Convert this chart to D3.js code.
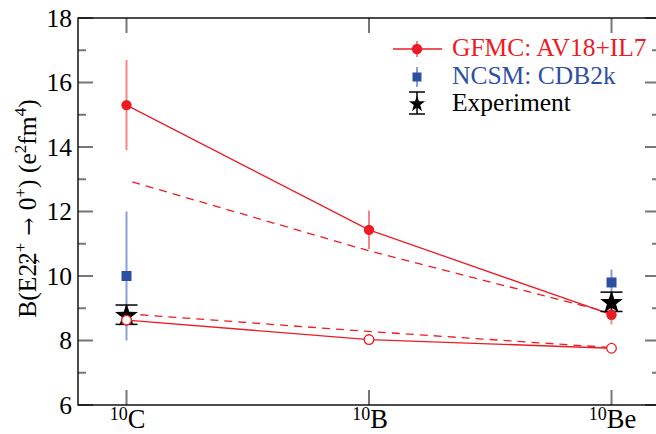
<!DOCTYPE html>
<html>
<head>
<meta charset="utf-8">
<script src="https://cdn.jsdelivr.net/npm/d3@7"></script>
<style>
  html, body { margin: 0; padding: 0; background: #fff; }
  svg { display: block; font-family: "Liberation Serif", "Times New Roman", serif; }
</style>
</head>
<body>
<svg id="chart" width="656" height="434"></svg>
<script>
// Nuclei along the x axis (mass number shown as superscript)
const nuclei = [
  { mass: "10", sym: "C" },
  { mass: "10", sym: "B" },
  { mass: "10", sym: "Be" }
];

// GFMC AV18+IL7, total B(E2) with Monte Carlo errors
const gfmcValues = [15.3, 11.43, 8.8];
const gfmcErrors = [1.4, 0.6, 0.3];
// GFMC alternative evaluation (dashed, upper)
const gfmcDashedUpper = [12.97, 10.78, 8.85];
// Lower GFMC curve (open circles) and its dashed companion
const gfmcLower = [8.63, 8.03, 7.76];
const gfmcDashedLower = [8.83, 8.28, 7.78];

// NCSM CDB2k (only 10C and 10Be)
const ncsmIndex = [0, 2];
const ncsmValues = [10.0, 9.8];
const ncsmErrors = [2.0, 0.4];

// Experiment (10C and 10Be)
const expIndex = [0, 2];
const expValues = [8.8, 9.2];
const expErrors = [0.3, 0.3];

const yMajorTicks = [6, 8, 10, 12, 14, 16, 18];
const yMinorTicks = [7, 9, 11, 13, 15, 17];

const red = "#ec1c24", redErr = "#f4868a";
const blue = "#2f4fa2", blueErr = "#8a9fd2";

const svg = d3.select("#chart");
const M = { left: 78, top: 18, right: 660, bottom: 405 };

const x = d3.scaleLinear().domain([-0.2, 2.2]).range([M.left, M.right]);
const y = d3.scaleLinear().domain([6, 18]).range([M.bottom, M.top]);

// Ticks (gray) on all four sides
const tickCol = "#777";
const ticks = svg.append("g").attr("stroke", tickCol).attr("stroke-width", 2);
yMajorTicks.forEach(v => {
  ticks.append("line").attr("x1", M.left).attr("x2", M.left + 15).attr("y1", y(v)).attr("y2", y(v));
  ticks.append("line").attr("x1", M.right - 15).attr("x2", M.right).attr("y1", y(v)).attr("y2", y(v));
});
yMinorTicks.forEach(v => {
  ticks.append("line").attr("x1", M.left).attr("x2", M.left + 8).attr("y1", y(v)).attr("y2", y(v));
  ticks.append("line").attr("x1", M.right - 8).attr("x2", M.right).attr("y1", y(v)).attr("y2", y(v));
});
nuclei.forEach((n, i) => {
  ticks.append("line").attr("x1", x(i)).attr("x2", x(i)).attr("y1", M.bottom).attr("y2", M.bottom - 15);
  ticks.append("line").attr("x1", x(i)).attr("x2", x(i)).attr("y1", M.top).attr("y2", M.top + 15);
});

// Frame
svg.append("rect")
  .attr("x", M.left).attr("y", M.top)
  .attr("width", M.right - M.left).attr("height", M.bottom - M.top)
  .attr("fill", "none").attr("stroke", "#000").attr("stroke-width", 1.4);

// Y tick labels
svg.append("g").selectAll("text").data(yMajorTicks).join("text")
  .attr("x", 72).attr("y", d => y(d)).attr("dy", "0.35em")
  .attr("text-anchor", "end").attr("font-size", 25.5).text(d => d);

// X tick labels with superscript mass number
const xl = svg.append("g").selectAll("text").data(nuclei).join("text")
  .attr("x", (d, i) => x(i) + 1).attr("y", 428)
  .attr("text-anchor", "middle").attr("font-size", 26.5);
xl.append("tspan").attr("font-size", 18).attr("dy", -8).text(d => d.mass);
xl.append("tspan").attr("dy", 8).text(d => d.sym);

// Y axis title
const yt = svg.append("text")
  .attr("transform", `translate(36, ${(M.top + M.bottom) / 2 - 3}) rotate(-90)`)
  .attr("text-anchor", "middle").attr("font-size", 25.5);
yt.append("tspan").text("B(E2");
yt.append("tspan").attr("font-size", 21).text(";");
yt.append("tspan").attr("dx", -7).text("2");
yt.append("tspan").attr("font-size", 17).attr("dy", -10).text("+");
yt.append("tspan").attr("dy", 10).attr("font-family", "DejaVu Serif").attr("font-size", 22).text(" \u2192 ");
yt.append("tspan").text("0");
yt.append("tspan").attr("font-size", 17).attr("dy", -10).text("+");
yt.append("tspan").attr("dy", 10).text(")  (e");
yt.append("tspan").attr("font-size", 17).attr("dy", -10).text("2");
yt.append("tspan").attr("dy", 10).text("fm");
yt.append("tspan").attr("font-size", 17).attr("dy", -10).text("4");
yt.append("tspan").attr("dy", 10).text(")");

const line = d3.line().x((d, i) => x(i)).y(d => y(d));

// Lines
const lines = svg.append("g").attr("fill", "none").attr("stroke", red).attr("stroke-width", 1.3);
lines.append("path").attr("d", line(gfmcValues));
lines.append("path").attr("d", line(gfmcLower));
lines.append("path").attr("d", line(gfmcDashedUpper)).attr("stroke-dasharray", "8,6").attr("stroke-dashoffset", -6);
lines.append("path").attr("d", line(gfmcDashedLower)).attr("stroke-dasharray", "8,6");

// Error bars
const eb = svg.append("g").attr("stroke-width", 2);
gfmcValues.forEach((v, i) => {
  eb.append("line").attr("stroke", redErr)
    .attr("x1", x(i)).attr("x2", x(i))
    .attr("y1", y(v - gfmcErrors[i])).attr("y2", y(v + gfmcErrors[i]));
});
ncsmValues.forEach((v, k) => {
  const i = ncsmIndex[k];
  eb.append("line").attr("stroke", blueErr)
    .attr("x1", x(i)).attr("x2", x(i))
    .attr("y1", y(v - ncsmErrors[k])).attr("y2", y(v + ncsmErrors[k]));
});

// NCSM squares
svg.append("g").selectAll("rect").data(ncsmValues).join("rect")
  .attr("x", (d, k) => x(ncsmIndex[k]) - 5).attr("y", d => y(d) - 5)
  .attr("width", 10).attr("height", 10).attr("fill", blue);

// Star path helper
function starPath(R, r) {
  const pts = [];
  for (let k = 0; k < 10; k++) {
    const a = -Math.PI / 2 + k * Math.PI / 5;
    const rad = k % 2 === 0 ? R : r;
    pts.push([rad * Math.cos(a), rad * Math.sin(a)]);
  }
  return "M" + pts.map(p => p.join(",")).join("L") + "Z";
}

// Experiment: error bars with caps and stars
const ex = svg.append("g");
expValues.forEach((v, k) => {
  const cx = x(expIndex[k]);
  const g = ex.append("g").attr("stroke", "#000").attr("stroke-width", 1.5);
  g.append("line").attr("x1", cx).attr("x2", cx).attr("y1", y(v - expErrors[k])).attr("y2", y(v + expErrors[k]));
  g.append("line").attr("x1", cx - 11).attr("x2", cx + 11).attr("y1", y(v - expErrors[k])).attr("y2", y(v - expErrors[k]));
  g.append("line").attr("x1", cx - 11).attr("x2", cx + 11).attr("y1", y(v + expErrors[k])).attr("y2", y(v + expErrors[k]));
  ex.append("path").attr("d", starPath(12, 4.8))
    .attr("transform", `translate(${cx},${y(v) + 1})`).attr("fill", "#000");
});

// GFMC markers
svg.append("g").selectAll("circle").data(gfmcValues).join("circle")
  .attr("cx", (d, i) => x(i)).attr("cy", d => y(d)).attr("r", 5.2).attr("fill", red);
svg.append("g").selectAll("circle").data(gfmcLower).join("circle")
  .attr("cx", (d, i) => x(i)).attr("cy", d => y(d)).attr("r", 4.8)
  .attr("fill", "#fff").attr("stroke", red).attr("stroke-width", 1.3);

// Legend
const lg = svg.append("g").attr("font-size", 25.5);
const lx = 417;
// GFMC entry
lg.append("line").attr("x1", 393).attr("x2", 442).attr("y1", 49).attr("y2", 49).attr("stroke", red).attr("stroke-width", 1.3);
lg.append("line").attr("x1", lx).attr("x2", lx).attr("y1", 41).attr("y2", 57).attr("stroke", redErr).attr("stroke-width", 2);
lg.append("circle").attr("cx", lx).attr("cy", 49).attr("r", 5.2).attr("fill", red);
lg.append("text").attr("x", 452).attr("y", 56).attr("fill", red).text("GFMC: AV18+IL7");
// NCSM entry
lg.append("line").attr("x1", lx).attr("x2", lx).attr("y1", 67).attr("y2", 87).attr("stroke", blueErr).attr("stroke-width", 2);
lg.append("rect").attr("x", lx - 4.5).attr("y", 72.5).attr("width", 9).attr("height", 9).attr("fill", blue);
lg.append("text").attr("x", 452).attr("y", 84).attr("fill", blue).text("NCSM: CDB2k");
// Experiment entry
const le = lg.append("g").attr("stroke", "#000").attr("stroke-width", 1.5);
le.append("line").attr("x1", lx).attr("x2", lx).attr("y1", 92).attr("y2", 114);
le.append("line").attr("x1", lx - 8).attr("x2", lx + 8).attr("y1", 92).attr("y2", 92);
le.append("line").attr("x1", lx - 8).attr("x2", lx + 8).attr("y1", 114).attr("y2", 114);
lg.append("path").attr("d", starPath(8.5, 3.4)).attr("transform", `translate(${lx},104)`).attr("fill", "#000");
lg.append("text").attr("x", 452).attr("y", 111).attr("fill", "#000").text("Experiment");
</script>
</body>
</html>
